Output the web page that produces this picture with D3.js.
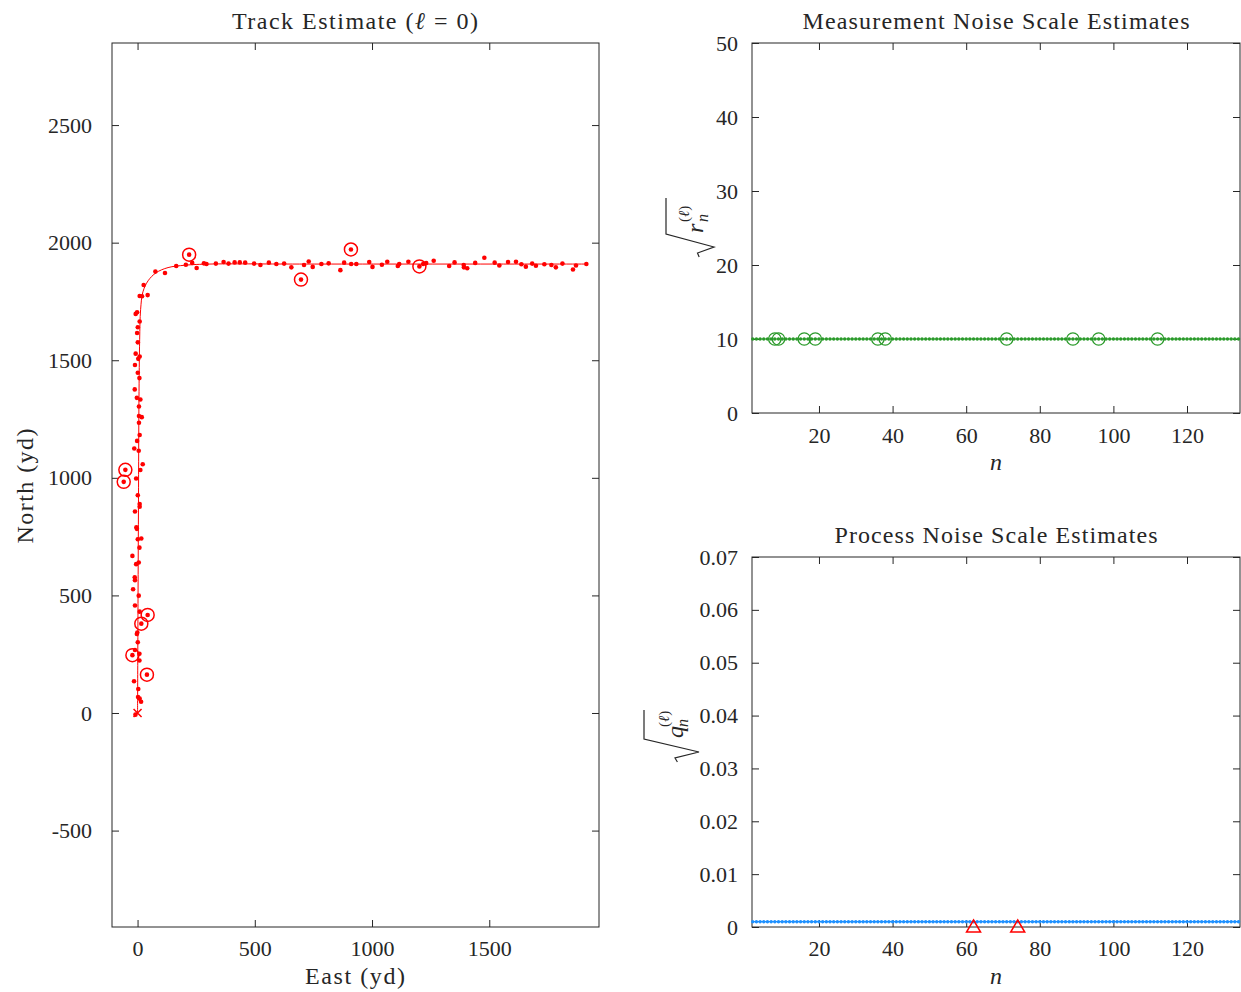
<!DOCTYPE html>
<html><head><meta charset="utf-8">
<script src="https://cdn.jsdelivr.net/npm/d3@7"></script>
<style>
body{margin:0;background:#fff;}
svg{display:block;}
text{font-family:"Liberation Serif","Times New Roman",serif;fill:#262626;}
</style>
</head><body>
<svg id="c" width="1241" height="992"></svg>
<script>
// ---------- DATA ----------
// Track estimate (yd)
const trackEast  = [0, 2, 4, 6, 9, 13, 23, 45, 79, 130, 202, 309, 691, 1917];
const trackNorth = [0, 481, 906, 1332, 1587, 1715, 1791, 1838, 1872, 1894, 1904, 1909, 1909, 1909];

// Measurements (yd)
const measEast = [-9, 15, 9, 2, 3, -15, 40, 8, -22, 8, -11, 1, -1, -3, 16, 43, 9, -11, -19, 5,
  -11, -12, -6, 5, -22, 8, 1, 16, -5, -3, -11, 9, 9, 1, -6, -59, -52, 12, 22, 5,
  -14, -2, 9, 6, 6, 18, 6, -3, 12, -12, 8, 1, -11, 3, 9, -8, 1, -2, 1, 9,
  -2, -8, 19, 9, 43, 26, 76, 117, 165, 206, 220, 233, 252, 283, 294, 334, 367, 388, 414, 436,
  459, 497, 524, 560, 592, 625, 656, 697, 710, 730, 747, 784, 815, 865, 881, 910, 911, 933, 988, 1002,
  1042, 1065, 1110, 1116, 1155, 1202, 1218, 1231, 1263, 1329, 1352, 1391, 1392, 1406, 1440, 1479, 1523, 1543, 1580, 1614,
  1637, 1656, 1683, 1699, 1735, 1765, 1784, 1812, 1857, 1870, 1914];
const measNorth = [-7, 48, 61, 68, 102, 135, 163, 223, 246, 252, 268, 301, 342, 336, 380, 417, 431, 457, 526, 499,
  565, 577, 633, 640, 668, 703, 739, 742, 790, 783, 857, 889, 877, 926, 997, 983, 1034, 1033, 1058, 1115,
  1125, 1157, 1182, 1234, 1263, 1258, 1303, 1340, 1333, 1376, 1424, 1447, 1480, 1506, 1516, 1528, 1576, 1616, 1640, 1665,
  1704, 1697, 1772, 1773, 1777, 1820, 1877, 1871, 1901, 1906, 1949, 1914, 1892, 1912, 1909, 1911, 1918, 1911, 1916, 1916,
  1915, 1911, 1905, 1915, 1909, 1911, 1895, 1843, 1905, 1920, 1897, 1909, 1912, 1883, 1915, 1971, 1909, 1909, 1918, 1897,
  1906, 1919, 1901, 1909, 1919, 1899, 1909, 1913, 1923, 1901, 1916, 1905, 1895, 1891, 1914, 1936, 1915, 1903, 1918, 1919,
  1908, 1898, 1911, 1902, 1908, 1905, 1895, 1911, 1886, 1903, 1909];

// Flagged (circled) measurements
const outlierEast  = [40, -22, 16, 43, -59, -52, 220, 697, 910, 1202];
const outlierNorth = [163, 246, 380, 417, 983, 1034, 1949, 1843, 1971, 1899];

// Noise-scale estimates per time step
const nSteps = d3.range(2, 135);
const rScaleValue = 10;          // sqrt(r_n) estimate (constant)
const qScaleValue = 0.001;       // sqrt(q_n) estimate (constant)
const rFlagged = [8, 9, 16, 19, 36, 38, 71, 89, 96, 112];
const qFlagged = [62, 74];

// Ticks
const trackXTicks = [0, 500, 1000, 1500];
const trackYTicks = [-500, 0, 500, 1000, 1500, 2000, 2500];
const nTicks = [20, 40, 60, 80, 100, 120];
const rTicks = [0, 10, 20, 30, 40, 50];
const qTicks = [0, 0.01, 0.02, 0.03, 0.04, 0.05, 0.06, 0.07];

// ---------- DRAW ----------
const svg = d3.select("#c");
const RED = "#ff0000", GREEN = "#2a9a2a", BLUE = "#1e90ff", AX = "#262626";
const FS = 22;

function frame(x, y, xt, yt, xfmt, yfmt, xpad, ypad) {
  const g = svg.append("g");
  const [x0, x1] = x.range(), [y0, y1] = y.range();
  const styleAxis = sel => {
    sel.select(".domain").remove();
    sel.selectAll("line").attr("stroke", AX).attr("stroke-width", 1);
    sel.selectAll("text").style("font-size", FS + "px").attr("fill", AX)
      .style("font-family", '"Liberation Serif",serif');
  };
  g.append("g").attr("transform", `translate(0,${y0})`)
    .call(d3.axisBottom(x).tickValues(xt).tickSizeInner(-7).tickSizeOuter(0).tickPadding(xpad).tickFormat(xfmt))
    .call(styleAxis);
  g.append("g").attr("transform", `translate(0,${y1})`)
    .call(d3.axisTop(x).tickValues(xt).tickSizeInner(-7).tickSizeOuter(0).tickFormat(""))
    .call(styleAxis);
  g.append("g").attr("transform", `translate(${x0},0)`)
    .call(d3.axisLeft(y).tickValues(yt).tickSizeInner(-7).tickSizeOuter(0).tickPadding(ypad).tickFormat(yfmt))
    .call(styleAxis);
  g.append("g").attr("transform", `translate(${x1},0)`)
    .call(d3.axisRight(y).tickValues(yt).tickSizeInner(-7).tickSizeOuter(0).tickFormat(""))
    .call(styleAxis);
  g.append("rect").attr("x", x0).attr("y", y1).attr("width", x1 - x0).attr("height", y0 - y1)
    .attr("fill", "none").attr("stroke", AX).attr("stroke-width", 1);
  return g;
}
function label(x, y, str, width, opts = {}) {
  const t = svg.append("text").attr("x", x).attr("y", y).attr("text-anchor", "middle")
    .style("font-size", "24px").attr("textLength", width).attr("lengthAdjust", "spacing");
  if (opts.rotate) t.attr("transform", `rotate(-90,${x},${y})`);
  if (opts.italic) t.style("font-style", "italic");
  t.text(str);
  return t;
}

// ---- Left: track ----
const xT = d3.scaleLinear().domain([-109, 1968]).range([112, 599]);
const yT = d3.scaleLinear().domain([-910, 2849]).range([927, 43]);
frame(xT, yT, trackXTicks, trackYTicks, d3.format("d"), d => d < 0 ? "-" + Math.abs(d) : String(d), 13, 20);

const trackPts = trackEast.map((e, i) => [e, trackNorth[i]]);
svg.append("path").datum(trackPts)
  .attr("d", d3.line().x(d => xT(d[0])).y(d => yT(d[1])).curve(d3.curveCatmullRom.alpha(0.5)))
  .attr("fill", "none").attr("stroke", RED).attr("stroke-width", 1);

svg.append("g").selectAll("circle").data(measEast.map((e, i) => [e, measNorth[i]])).join("circle")
  .attr("cx", d => xT(d[0])).attr("cy", d => yT(d[1])).attr("r", 2.3).attr("fill", RED);
svg.append("g").selectAll("circle").data(outlierEast.map((e, i) => [e, outlierNorth[i]])).join("circle")
  .attr("cx", d => xT(d[0])).attr("cy", d => yT(d[1])).attr("r", 6.5)
  .attr("fill", "none").attr("stroke", RED).attr("stroke-width", 1.5);
// start marker
{
  const sx = xT(0), sy = yT(0), s = 4;
  svg.append("path").attr("d", `M${sx - s},${sy - s}L${sx + s},${sy + s}M${sx - s},${sy + s}L${sx + s},${sy - s}`)
    .attr("stroke", RED).attr("stroke-width", 1.5);
}
{
  const tt = svg.append("text").attr("x", 355).attr("y", 29).attr("text-anchor", "middle")
    .style("font-size", "24px").attr("textLength", 246).attr("lengthAdjust", "spacing");
  tt.append("tspan").text("Track Estimate (");
  tt.append("tspan").style("font-style", "italic").text("ℓ");
  tt.append("tspan").text(" = 0)");
}
label(355, 984, "East (yd)", 100);
label(33, 486, "North (yd)", 115, { rotate: true });

// ---- Top right: measurement noise ----
const xN1 = d3.scaleLinear().domain([1.8, 134.4]).range([752, 1240]);
const yR = d3.scaleLinear().domain([0, 50]).range([413, 43]);
frame(xN1, yR, nTicks, rTicks, d3.format("d"), d3.format("d"), 14, 14);
svg.append("line").attr("x1", xN1(nSteps[0])).attr("x2", xN1(nSteps[nSteps.length - 1]))
  .attr("y1", yR(rScaleValue)).attr("y2", yR(rScaleValue)).attr("stroke", GREEN).attr("stroke-width", 1.2);
svg.append("g").selectAll("circle").data(nSteps).join("circle")
  .attr("cx", d => xN1(d)).attr("cy", yR(rScaleValue)).attr("r", 1.7).attr("fill", GREEN);
svg.append("g").selectAll("circle").data(rFlagged).join("circle")
  .attr("cx", d => xN1(d)).attr("cy", yR(rScaleValue)).attr("r", 6.2)
  .attr("fill", "none").attr("stroke", GREEN).attr("stroke-width", 1.3);
label(996, 29, "Measurement Noise Scale Estimates", 387);
label(996, 470, "n", 12, { italic: true });

// ---- Bottom right: process noise ----
const xN2 = d3.scaleLinear().domain([1.8, 134.4]).range([752, 1240]);
const yQ = d3.scaleLinear().domain([0, 0.07]).range([927, 557]);
frame(xN2, yQ, nTicks, qTicks, d3.format("d"), d => d === 0 ? "0" : d3.format(".2f")(d), 13, 14);
svg.append("line").attr("x1", xN2(nSteps[0])).attr("x2", xN2(nSteps[nSteps.length - 1]))
  .attr("y1", yQ(qScaleValue)).attr("y2", yQ(qScaleValue)).attr("stroke", BLUE).attr("stroke-width", 1.2);
svg.append("g").selectAll("circle").data(nSteps).join("circle")
  .attr("cx", d => xN2(d)).attr("cy", yQ(qScaleValue)).attr("r", 1.7).attr("fill", BLUE);
svg.append("g").selectAll("path").data(qFlagged).join("path")
  .attr("transform", d => `translate(${xN2(d)},${yQ(0)})`)
  .attr("d", "M0,-7L7,5L-7,5Z")
  .attr("fill", "none").attr("stroke", RED).attr("stroke-width", 1.5);
label(996, 543, "Process Noise Scale Estimates", 323);
label(996, 984, "n", 12, { italic: true });

// ---- radical y-labels ----
function radicalLabel(cx, cy, letter, top, depth, w) {
  const g = svg.append("g").attr("transform", `translate(${cx},${cy}) rotate(-90)`);
  // local: x increases upward on screen, y increases rightward
  g.append("text").attr("x", 0).attr("y", 0).style("font-size", "24px").style("font-style", "italic").text(letter);
  g.append("text").attr("x", 11).attr("y", 5).style("font-size", "16px").style("font-style", "italic").text("n");
  const sup = g.append("text").attr("x", 11).attr("y", -14).style("font-size", "15px");
  sup.append("tspan").text("(");
  sup.append("tspan").style("font-style", "italic").text("ℓ");
  sup.append("tspan").text(")");
  g.append("path")
    .attr("d", `M-24,${-depth * 0.35}L-20,${-depth * 0.5}L-14,${depth}L-1,${-top}L${w},${-top}`)
    .attr("fill", "none").attr("stroke", AX).attr("stroke-width", 1.2);
}
radicalLabel(703, 233, "r", 37, 11, 35);
radicalLabel(683, 738, "q", 39, 16, 28);
</script>
</body></html>
